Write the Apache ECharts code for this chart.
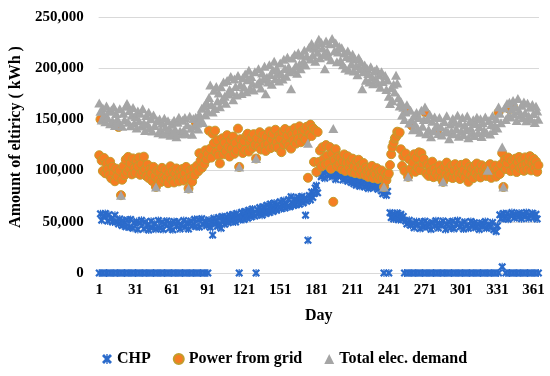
<!DOCTYPE html>
<html>
<head>
<meta charset="utf-8">
<script src="https://cdn.jsdelivr.net/npm/echarts@6/dist/echarts.min.js"></script>
<style>
html,body{margin:0;padding:0;background:#fff;}
#chart{width:550px;height:376px;}
</style>
</head>
<body>
<div id="chart"></div>
<script>
// Day categories 1..365
const days = Array.from({length: 365}, (_, i) => String(i + 1));

const seriesNames = ['CHP', 'Power from grid', 'Total elec. demand'];
const yTicks = [0, 50000, 100000, 150000, 200000, 250000];

// CHP (kWh)
const chp = [
0,57800,51600,0,55900,58200,0,50700,56900,0,
53100,49800,0,56400,50200,0,47900,52800,0,46300,
50900,0,45200,51700,0,44600,52300,0,43800,49100,
0,50200,42600,0,48900,51400,0,43100,49700,0,
46800,41900,0,50600,44300,0,48200,42800,0,51300,
44100,0,49600,42400,0,47800,50900,0,43500,48700,
0,42200,50300,0,45600,49900,0,43000,47300,0,
51200,44700,0,49300,42900,0,50800,46100,0,52400,
45300,0,51900,44800,0,53100,47400,0,50600,46200,
0,51800,44600,49200,37000,53400,47700,51100,45600,54200,
48300,43800,55100,50200,47600,54800,51300,49100,56300,52700,
50400,57200,53600,49800,58100,55000,0,51900,59300,54500,
52300,60100,56700,53500,61400,57900,54800,62600,58300,55600,
0,61800,57400,63900,59200,56500,64700,60300,58100,66200,
61300,59000,67400,62800,60100,68300,63600,61200,66900,64200,
69600,62700,66100,70800,63400,67900,65000,71700,64600,74500,
68200,65800,72300,66700,69800,73900,67100,70600,74800,68400,
72900,56500,70100,32000,75600,71400,79200,73800,77600,83100,
85400,78300,96900,101200,94100,104300,97800,92600,102700,99100,
105200,95300,100800,93900,103600,97200,91400,101900,96300,99400,
94200,98600,90800,96400,92300,97700,89600,94900,91700,88500,
93100,87200,91900,85800,90500,88400,84600,91200,86500,89900,
83900,89100,85700,82600,88800,86100,84000,90100,83200,87600,
85900,81800,87300,84400,80200,77300,0,83400,75900,79800,
0,58900,54100,57600,52800,56900,53400,58700,51900,55600,
57300,52600,55200,0,50700,47900,0,51400,46600,0,
48900,44200,0,50300,46800,0,43400,49700,0,45100,
50600,0,44900,48200,0,42700,49400,0,45800,51100,
0,43900,48600,0,46300,50800,0,42500,47900,0,
49800,44100,0,50500,43200,0,47600,51300,0,44800,
48200,0,42900,49900,0,46700,43600,0,50400,45500,
0,49100,44300,0,47800,42600,0,48900,45100,0,
50200,43700,0,47400,44600,0,49300,42300,0,40500,
46100,0,56800,52900,6000,58100,53500,0,57900,52400,
0,55900,59000,0,53700,57400,0,54600,58600,0,
52900,57600,0,55100,59200,0,53300,56700,0,58400,
54100,0,57300,52800,0
];

// Power from grid (kWh)
const grid = [
115000,150000,109800,99600,112300,97400,106800,101200,95800,108600,
92400,103700,98100,89600,101900,94300,142600,99700,76000,91100,
104300,95600,110800,98900,113400,101700,107200,96300,111900,102600,
97800,109700,104100,112800,95900,106400,99200,113600,101300,94700,
105900,92800,101400,97300,89800,103600,94600,84000,99900,91200,
98600,88900,102700,94100,90700,100800,93300,87700,97400,104200,
91600,99300,88400,96900,102100,92700,89500,98800,94400,101600,
90300,97200,103600,92100,82500,99700,93800,89100,101900,95500,
147000,104700,99300,117000,109800,102600,114400,106100,119800,110900,
116300,139000,121400,112700,136000,126800,139000,118200,129600,114800,
107000,122600,131500,115900,127300,119100,134600,123300,113700,129800,
121600,133200,116400,126900,119800,141000,103600,130700,124300,117200,
128700,120300,133900,136000,118600,127400,131800,122200,135600,125100,
111800,131400,123700,137500,120600,129300,134900,124800,119200,132700,
126200,138300,121900,130600,135800,123500,139900,127800,122400,134300,
130900,118000,137700,125400,140600,128500,134100,124300,138900,121500,
135300,129700,141400,126300,136900,131100,143200,127700,138100,133500,
139700,130400,142800,93000,136200,144900,133800,141600,108500,139400,
98700,137700,108400,119600,103900,122800,111300,105700,124900,114600,
107100,123000,101800,116500,69500,110400,120900,104200,113700,106900,
112500,101400,109100,115800,99700,107600,113900,102900,108300,98800,
111700,104100,97600,108900,102200,110600,96800,105300,100500,107400,
95800,103100,99400,93900,101700,97100,104600,92800,99100,96300,
102400,91900,98700,94300,100200,92700,84000,97500,90600,95200,
97200,105400,116000,123000,127100,131400,133000,138000,135900,137300,
120800,104600,113900,99800,116700,159000,94000,111200,101600,144000,
107700,115900,98800,112400,103100,117800,100600,117000,106900,111500,
157000,97300,106200,94800,103900,99100,108700,93600,101800,97500,
139000,94200,105100,99600,92300,89000,103700,96400,107800,93900,
101300,95500,104600,92700,99900,106300,94100,102100,97100,91800,
105600,96800,100500,93400,107100,98200,89000,103800,95700,101900,
92600,104700,97800,106900,94500,100700,93300,105200,99300,96100,
103500,94700,100400,98600,106300,92900,101300,97700,104900,94100,
100900,157000,96700,105900,117000,84000,110300,101500,107400,112800,
160000,99500,109600,162000,103400,111700,98600,108200,113300,102500,
110100,104600,99800,112900,106500,101300,109400,114100,100200,107100,
111600,102600,108900,98900,105300
];

// Total electricity demand (kWh)
const total = [
166000,158000,149500,161200,154300,147800,163100,151600,157900,145700,
159200,148800,162400,144100,155700,150300,146600,160500,76000,143200,
156100,149600,162900,165500,147200,158700,143800,154300,161500,146400,
152800,141600,158100,148700,155900,143500,160300,146800,139200,153900,
145300,157100,141800,150600,138700,154300,144100,84000,148700,136900,
150400,139900,146200,135800,151100,142300,137300,148700,140900,134600,
145300,136800,149200,140200,133100,147100,152000,138700,135900,149200,
139400,151900,136100,144800,82500,153000,141300,135600,150800,143700,
152000,146300,140700,155100,149900,160800,147000,163400,154700,166600,
158200,171500,183600,164400,157300,178500,160700,182200,167900,175800,
162300,181900,169200,186500,172600,165800,188100,174700,179300,191900,
176400,169100,189500,182200,173800,192900,103600,184200,175300,190700,
181600,194400,177100,188700,197900,180200,192000,185400,178800,196500,
111800,184600,199500,187400,180700,195300,189100,201900,175000,191200,
186600,203300,193900,184400,198200,206700,189800,200300,195700,187600,
205100,194500,189400,208700,199800,192200,210600,201100,196500,180000,
209900,198300,213300,202600,195000,215000,204200,199500,212700,206300,
217600,203100,211700,126700,220400,208900,224200,213000,219500,206800,
222400,215600,228300,210100,225000,219700,213300,199500,226600,216400,
211600,223900,208200,229000,141000,217100,224700,206400,215800,221100,
207600,219900,203300,214800,200000,211500,216700,198200,209900,204400,
213700,197200,208900,202600,193700,210100,199400,205800,180000,196600,
203200,188300,199700,194900,186600,201500,191400,184700,197300,189800,
199200,185700,193500,181300,196600,187100,84000,192900,179200,188400,
172600,165600,180800,168100,184300,176800,193000,185600,171200,163000,
167400,154200,161800,149800,157300,164200,94000,146600,158900,149700,
140000,153600,145300,156700,141100,151900,137400,159000,143200,149800,
162000,136000,150600,140200,154900,133000,148100,138800,152300,142700,
144500,136200,151900,143000,134700,89000,147900,139200,153500,137800,
131000,145600,138400,150800,135900,147200,140900,154100,133600,146300,
138600,151800,135100,144600,139800,153300,132000,147900,141500,136400,
149700,134200,145900,152100,137200,143000,150600,133300,146800,139400,
152400,137300,100400,148900,135700,145100,153600,139200,144300,150800,
141600,162000,156000,146700,123000,84000,161200,149900,165600,153300,
166800,152400,160100,168500,155200,162700,149000,170300,158800,154500,
163900,151600,167100,156400,148800,165700,153200,161800,150100,164600,
155700,147000,162900,158300,150200
];

const starPath = 'path://M2,0 L5,3 L8,0 L10,2 L7,5 L10,8 L8,10 L5,7 L2,10 L0,8 L3,5 L0,2 Z M4.3,0 L5.7,0 L5.7,10 L4.3,10 Z';
const serifFont = '"Liberation Serif","Times New Roman",serif';

const chart = echarts.init(document.getElementById('chart'), null, {renderer: 'canvas'});
chart.setOption({
  animation: false,
  backgroundColor: '#ffffff',
  grid: {left: 94, right: 11, top: 17, bottom: 103, containLabel: false},
  legend: {
    data: [
      {name: seriesNames[0], icon: starPath},
      {name: seriesNames[1], icon: 'circle'},
      {name: seriesNames[2], icon: 'triangle'}
    ],
    left: 97, top: 346,
    itemWidth: 10, itemHeight: 10, itemGap: 22,
    textStyle: {fontFamily: serifFont, fontWeight: 'bold', fontSize: 16, color: '#000'}
  },
  xAxis: {
    type: 'category',
    data: days,
    boundaryGap: true,
    name: 'Day',
    nameLocation: 'middle',
    nameGap: 35,
    nameTextStyle: {fontFamily: serifFont, fontWeight: 'bold', fontSize: 16, color: '#000'},
    axisLine: {show: false},
    axisTick: {show: false},
    axisLabel: {interval: 29, margin: 10, fontFamily: serifFont, fontWeight: 'bold', fontSize: 15, color: '#000'},
    splitLine: {show: false}
  },
  yAxis: {
    type: 'value',
    min: yTicks[0], max: yTicks[yTicks.length - 1], interval: yTicks[1] - yTicks[0],
    name: 'Amount of eltiricy ( kWh )',
    nameLocation: 'middle',
    nameGap: 68,
    nameTextStyle: {fontFamily: serifFont, fontWeight: 'bold', fontSize: 16, color: '#000', padding: [0, 0, 0, 16]},
    axisLine: {show: false},
    axisTick: {show: false},
    axisLabel: {
      margin: 15, fontFamily: serifFont, fontWeight: 'bold', fontSize: 15, color: '#000',
      formatter: v => String(v).replace(/\B(?=(\d{3})+(?!\d))/g, ',')
    },
    splitLine: {lineStyle: {color: '#d9d9d9', width: 1}}
  },
  series: [
    {
      name: seriesNames[0], type: 'scatter', data: chp,
      symbol: starPath, symbolSize: 8,
      itemStyle: {color: '#2b6bcb', opacity: 1}
    },
    {
      name: seriesNames[1], type: 'scatter', data: grid,
      symbol: 'circle', symbolSize: 9,
      itemStyle: {color: '#f57d22', borderColor: '#c29d2c', borderWidth: 1, opacity: 1}
    },
    {
      name: seriesNames[2], type: 'scatter', data: total,
      symbol: 'triangle', symbolSize: [10, 9],
      itemStyle: {color: '#a5a5a5', opacity: 1}
    }
  ]
});
</script>
</body>
</html>
